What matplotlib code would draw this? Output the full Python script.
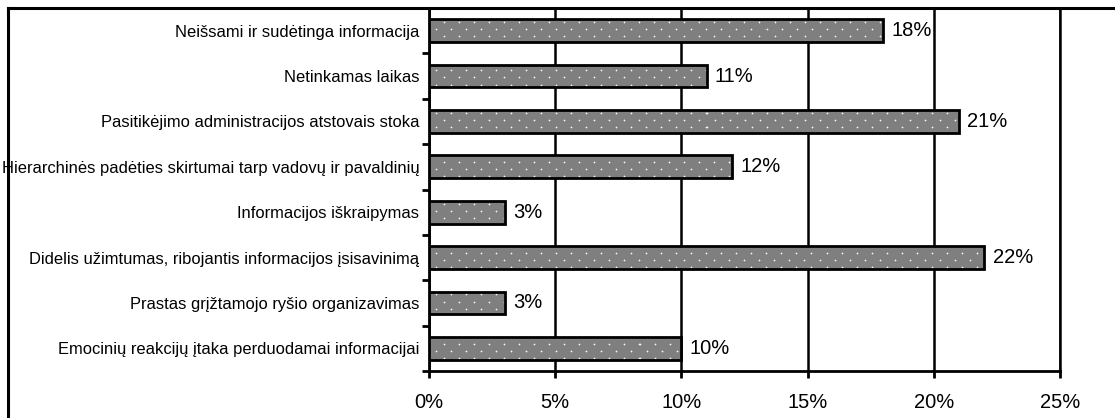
import numpy as np
import matplotlib
matplotlib.use("Agg")
import matplotlib.pyplot as plt
from matplotlib.lines import Line2D

plt.rcParams['font.family'] = ['Liberation Sans', 'DejaVu Sans']

categories = [
    "Neišsami ir sudėtinga informacija",
    "Netinkamas laikas",
    "Pasitikėjimo administracijos atstovais stoka",
    "Hierarchinės padėties skirtumai tarp vadovų ir pavaldinių",
    "Informacijos iškraipymas",
    "Didelis užimtumas, ribojantis informacijos įsisavinimą",
    "Prastas grįžtamojo ryšio organizavimas",
    "Emocinių reakcijų įtaka perduodamai informacijai",
]
values = [18, 11, 21, 12, 3, 22, 3, 10]
xticks = [0, 5, 10, 15, 20, 25]

fig = plt.figure(figsize=(11.15, 4.18), dpi=100)
ax = fig.add_axes([429 / 1115, 1 - 371 / 418, (1060 - 429) / 1115, (371 - 8) / 418])

# dotted grey fill texture, one pixel per screen pixel of the axes
H, W = 363, 631
yy, xx = np.mgrid[0:H, 0:W]
dots = ((yy % 14 == 0) & (xx % 15 == 0)) | ((yy % 14 == 7) & (xx % 15 == 7))
halo = np.zeros_like(dots)
for dy, dx in [(1, 0), (-1, 0), (0, 1), (0, -1)]:
    halo |= np.roll(np.roll(dots, dy, axis=0), dx, axis=1)
tex = np.full((H, W), 0.5)
tex[halo] = 0.66
tex[dots] = 0.97
tex = np.dstack([tex, tex, tex])

y = np.arange(len(categories))
ylim = (len(categories) - 0.5, -0.5)
bars = ax.barh(y, values, height=0.5, color='#808080', edgecolor='none', zorder=3)
for bar in bars:
    im = ax.imshow(tex, extent=(0, 25, ylim[0], ylim[1]), aspect='auto',
                   interpolation='nearest', zorder=3.2)
    im.set_clip_path(bar)
ax.barh(y, values, height=0.5, fill=False, edgecolor='black',
        linewidth=2, zorder=4)

for yi, v in zip(y, values):
    ax.annotate(f"{v}%", (v, yi), xytext=(6, 0), textcoords='offset points',
                va='center', ha='left', fontsize=14.5, zorder=5)

ax.set_ylim(*ylim)
ax.set_xlim(0, 25)
ax.set_xticks(xticks)
ax.set_xticklabels([f"{t}%" for t in xticks], fontsize=14.5)
ax.set_yticks(np.arange(len(categories) + 1) - 0.5)
ax.set_yticklabels([])
ax.set_yticks(y, minor=True)
ax.set_yticklabels(categories, minor=True, fontsize=11.9)
ax.tick_params(axis='y', which='minor', length=0, pad=7)
ax.tick_params(axis='y', which='major', length=5, width=2, direction='out')
ax.tick_params(axis='x', length=5, width=2, direction='out', pad=11)

ax.grid(axis='x', color='black', linewidth=1.8, zorder=1)
ax.axvline(25, color='black', linewidth=1.8, clip_on=False, zorder=1)
for side in ['top', 'right']:
    ax.spines[side].set_visible(False)
for side in ['left', 'bottom']:
    ax.spines[side].set_linewidth(2)

# outer chart frame
fig.add_artist(Line2D([8 / 1115, 8 / 1115], [-0.1, 1 - 8 / 418], color='black', linewidth=2.2))
fig.add_artist(Line2D([8 / 1115, 1.1], [1 - 8 / 418, 1 - 8 / 418], color='black', linewidth=2.2))

fig.savefig('out.png', dpi=100)
